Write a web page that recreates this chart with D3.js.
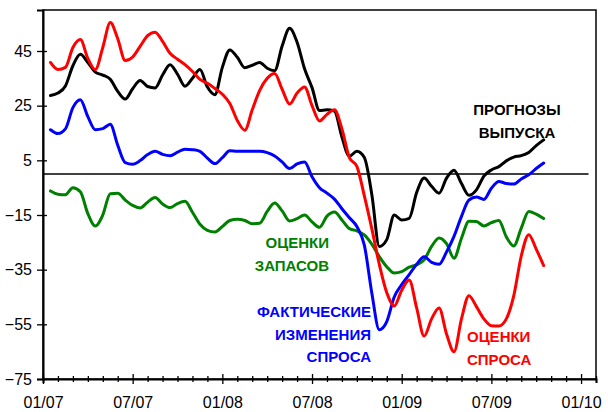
<!DOCTYPE html>
<html>
<head>
<meta charset="utf-8">
<script src="https://cdn.jsdelivr.net/npm/d3@7"></script>
<style>
  body { margin: 0; background: #fff; }
  svg { display: block; font-family: "Liberation Sans", Arial, sans-serif; }
</style>
</head>
<body>
<div id="chart"></div>
<script>
// semi-monthly observations, month index 0 = 01/2007
var startMonth = 0.5,
    step = 0.5;

var outputForecast = [28.7, 29.6, 32.2, 39.6, 43.8, 40.8, 37.3, 36.2, 34.7, 30.2, 27.4, 31.2, 34.2, 32.0, 31.5, 36.2, 40.0, 36.5, 32.1, 35.0,
    38.2, 31.8, 29.0, 39.0, 45.4, 42.7, 38.9, 39.8, 40.8, 38.7, 37.8, 46.8, 53.3, 48.2, 38.5, 31.6, 23.2, 23.5, 23.0, 13.5,
    6.5, 8.3, 6.0, -7.5, -26.5, -24, -15, -16.8, -16.2, -6.8, -1.5, -4.5, -7.0, -1.5, 1.4, -3.5, -7.8, -5.8, -0.8, 1.5,
    2.7, 4.8, 6.2, 6.7, 7.9, 10.4, 12.5];

var demandEstimate = [40.8, 38.2, 39.0, 46.3, 49.2, 42.3, 38.2, 46.3, 55.4, 49.5, 41.5, 42.8, 46.7, 50.6, 51.9, 48.5, 44.2, 42.0, 40.0, 37.5,
    34.6, 33.2, 31.3, 29.2, 25.8, 19.6, 16.0, 23.5, 30.6, 35.0, 36.8, 31.0, 25.6, 29.6, 31.8, 25.0, 19.4, 21.8, 23.5, 16.5,
    6.0, 2.8, -8, -20, -33, -43.4, -48.3, -42.5, -38.8, -49, -59.3, -53, -49, -58.5, -65, -53, -44.5, -48.5, -53, -55.5,
    -55.6, -53, -44.5, -30, -22.2, -27.5, -33.5];

var actualDemand = [16.2, 14.8, 16.5, 24.3, 27.2, 21.0, 16.2, 16.6, 18.2, 10.5, 4.2, 3.6, 4.9, 7.1, 8.3, 7.2, 6.7, 8.0, 9.1, 8.9,
    8.3, 5.8, 3.8, 6.0, 8.5, 8.3, 8.3, 8.3, 8.3, 7.8, 6.6, 4.4, 2.0, 3.7, 4.4, -1.0, -5.0, -7.0, -9.2, -12.7,
    -16.0, -19.2, -26, -43.5, -57, -54, -45, -40.5, -36.8, -33, -30.3, -32.3, -33.0, -28.5, -22.8, -15.5, -9.5, -8.4, -9.3, -5.2,
    -2.7, -3.5, -3.7, -1.8, -0.3, 2.0, 4.0];

var stockEstimate = [-6.2, -7.4, -7.6, -5.0, -6.5, -14.5, -19.0, -15, -7.2, -7.0, -9.5, -11.5, -12.4, -10.3, -8.6, -11.0, -12.3, -10.8, -10.0, -14.0,
    -18.4, -20.6, -21.2, -19.2, -17.0, -16.6, -17.0, -18.2, -18.0, -13.7, -10.6, -13.5, -17.2, -16.3, -15.0, -17.5, -19.5, -15.4, -13.9, -16.8,
    -20.0, -20.8, -22.3, -25.7, -30.2, -33.9, -36.2, -35.7, -34.1, -33.2, -31.4, -26.5, -23.4, -25.5, -30.8, -23.5, -17.3, -17.4, -19.0, -17.8,
    -17.0, -23.0, -26.3, -19.8, -13.7, -14.7, -16.3];

var yTicks = [-75, -55, -35, -15, 5, 25, 45];
var xLabelMonths = [0, 6, 12, 18, 24, 30, 36];
var xLabels = ["01/07", "07/07", "01/08", "07/08", "01/09", "07/09", "01/10"];

var series = [
    { values: stockEstimate, color: "#008000" },
    { values: actualDemand, color: "#0000ff" },
    { values: outputForecast, color: "#000000" },
    { values: demandEstimate, color: "#ff0000" }
];

var width = 608,
    height = 412,
    plotLeft = 43,
    plotRight = 596,
    plotTop = 10,
    plotBottom = 379;

var svg = d3.select("#chart").append("svg")
    .attr("width", width)
    .attr("height", height);

var x = d3.scaleLinear().domain([0, 37]).range([plotLeft, plotRight]),
    y = d3.scaleLinear().domain([-75, 60]).range([plotBottom, plotTop]);

// frame
svg.append("rect")
    .attr("x", plotLeft).attr("y", plotTop)
    .attr("width", plotRight - plotLeft).attr("height", plotBottom - plotTop)
    .style("fill", "none")
    .style("stroke", "#000")
    .style("stroke-width", 1.5);

// zero line
svg.append("line")
    .attr("x1", x(0)).attr("x2", x(36.5))
    .attr("y1", y(0)).attr("y2", y(0))
    .style("stroke", "#000")
    .style("stroke-width", 1.5);

var line = d3.line()
    .x(function (d, i) { return x(startMonth + i * step); })
    .y(function (d) { return y(d); })
    .curve(d3.curveMonotoneX);

svg.selectAll("path.series")
    .data(series)
    .enter()
    .append("path")
    .classed("series", true)
    .attr("d", function (d) { return line(d.values); })
    .style("fill", "none")
    .style("stroke", function (d) { return d.color; })
    .style("stroke-width", 3)
    .style("stroke-linejoin", "round")
    .style("stroke-linecap", "round");

// y axis
var yAxis = svg.append("g")
    .attr("transform", "translate(" + plotLeft + ",0)")
    .call(d3.axisLeft(y).tickValues(yTicks).tickSize(6).tickPadding(10));
yAxis.selectAll(".tick line").attr("x1", 4).style("stroke-width", 1.3);
yAxis.select(".domain").style("stroke-width", 2);
yAxis.selectAll(".tick text")
    .style("font-size", "16px")
    .style("fill", "#000")
    .attr("x", -11);

// x axis
var months = d3.range(0, 38);
var xAxis = svg.append("g")
    .attr("transform", "translate(0," + plotBottom + ")")
    .call(d3.axisBottom(x).tickValues(months).tickSize(4).tickPadding(14)
        .tickFormat(function (m) {
            var k = xLabelMonths.indexOf(m);
            return k < 0 ? "" : xLabels[k];
        }));
xAxis.select(".domain").style("stroke-width", 2);
xAxis.selectAll(".tick line")
    .attr("y1", function (m) { return m % 6 === 0 ? -5 : -3; })
    .attr("y2", function (m) { return m % 6 === 0 ? 5 : 3; })
    .style("stroke-width", 1.3);
xAxis.selectAll(".tick text")
    .style("font-size", "16px")
    .style("fill", "#000");

// series labels
var labels = [
    { lines: ["ПРОГНОЗЫ", "ВЫПУСКА"], color: "#000000", x: 517, y: 115, anchor: "middle" },
    { lines: ["ОЦЕНКИ", "ЗАПАСОВ"], color: "#008000", x: 329, y: 248, anchor: "end" },
    { lines: ["ФАКТИЧЕСКИЕ", "ИЗМЕНЕНИЯ", "СПРОСА"], color: "#0000ff", x: 371, y: 317, anchor: "end" },
    { lines: ["ОЦЕНКИ", "СПРОСА"], color: "#ff0000", x: 467, y: 342, anchor: "start" }
];

labels.forEach(function (l) {
    var t = svg.append("text")
        .attr("text-anchor", l.anchor)
        .style("font-size", "15px")
        .style("font-weight", "bold")
        .style("fill", l.color);
    l.lines.forEach(function (s, i) {
        t.append("tspan")
            .attr("x", l.x)
            .attr("y", l.y + i * 22.5)
            .text(s);
    });
});
</script>
</body>
</html>
